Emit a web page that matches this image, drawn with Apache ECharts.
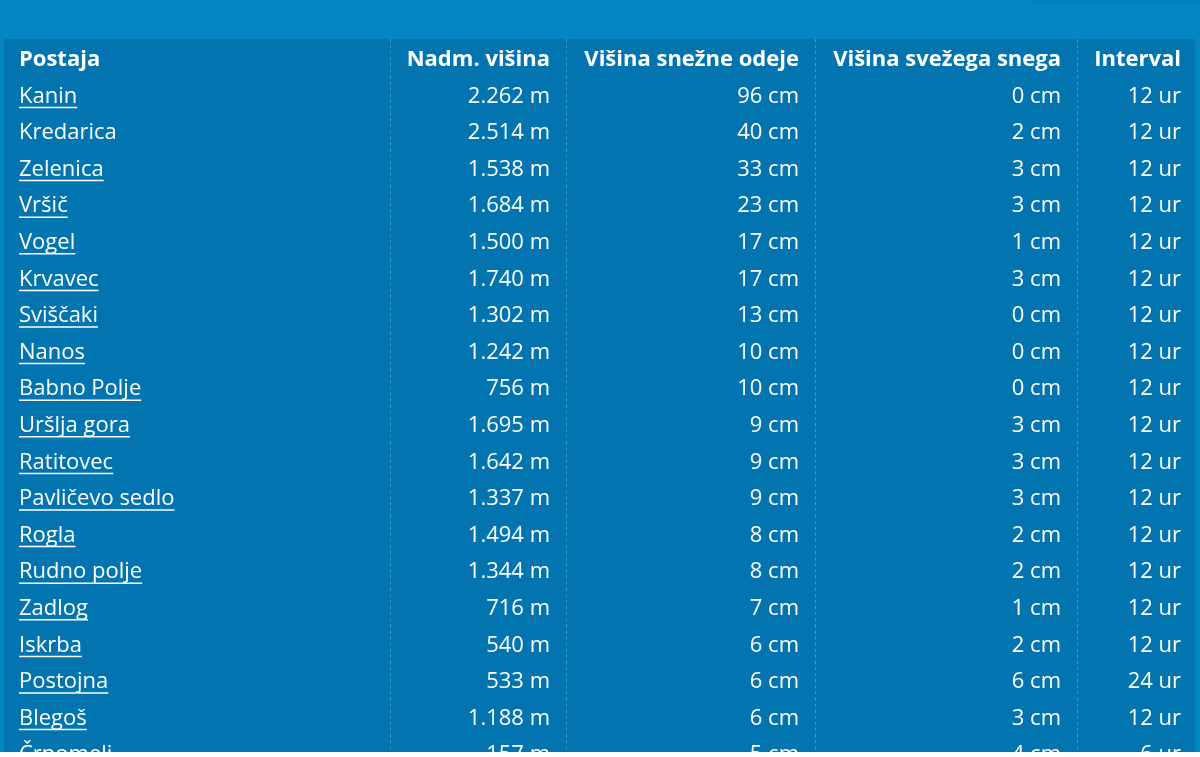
<!DOCTYPE html>
<html>
<head>
<meta charset="utf-8">
<script src="https://cdn.jsdelivr.net/npm/echarts@6/dist/echarts.min.js"></script>
<style>
html,body{margin:0;padding:0;background:#0386c1;}
#chart{width:1200px;height:757px;}
</style>
</head>
<body>
<div id="chart"></div>
<script>
// ---- data ----
var headers = ['Postaja', 'Nadm. višina', 'Višina snežne odeje', 'Višina svežega snega', 'Interval'];
var stations = ['Kanin','Kredarica','Zelenica','Vršič','Vogel','Krvavec','Sviščaki','Nanos','Babno Polje','Uršlja gora','Ratitovec','Pavličevo sedlo','Rogla','Rudno polje','Zadlog','Iskrba','Postojna','Blegoš','Črnomelj'];
var altitude = [2262, 2514, 1538, 1684, 1500, 1740, 1302, 1242, 756, 1695, 1642, 1337, 1494, 1344, 716, 540, 533, 1188, 157];
var snowDepth = [96, 40, 33, 23, 17, 17, 13, 10, 10, 9, 9, 9, 8, 8, 7, 6, 6, 6, 5];
var freshSnow = [0, 2, 3, 3, 1, 3, 0, 0, 0, 3, 3, 3, 2, 2, 1, 2, 6, 3, 4];
var intervalHours = [12, 12, 12, 12, 12, 12, 12, 12, 12, 12, 12, 12, 12, 12, 12, 12, 24, 12, 6];
var linked = [true, false, true, true, true, true, true, true, true, true, true, true, true, true, true, true, true, true, true];

// ---- layout ----
var FONT = '"Open Sans", "Noto Sans", sans-serif';
var FS = 22;
var ROW_H = 36.6;
var TEXT_DY = 2.5;
var GRID_TOP = 39, GRID_H = 713;
var separators = [390, 566, 815, 1077];
var colAnchor = [19, 550, 799, 1061, 1181];
var colAlign = ['left', 'right', 'right', 'right', 'right'];

function fmtThousands(v) {
  return String(v).replace(/\B(?=(\d{3})+(?!\d))/g, '.');
}
var nRows = stations.length + 1;

var mctx = document.createElement('canvas').getContext('2d');
function textWidth(t, weight) {
  mctx.font = (weight || 'normal') + ' ' + FS + 'px ' + FONT;
  return mctx.measureText(t).width;
}

function cellTexts(i) {
  if (i === 0) return headers;
  var k = i - 1;
  return [stations[k], fmtThousands(altitude[k]) + ' m', snowDepth[k] + ' cm', freshSnow[k] + ' cm', intervalHours[k] + ' ur'];
}

var rowData = [];
for (var r = 0; r < nRows; r++) rowData.push([4, r]);

var chart = echarts.init(document.getElementById('chart'), null, {renderer: 'canvas'});

var option = {
  backgroundColor: '#0386c1',
  animation: false,
  grid: {
    left: 4, top: GRID_TOP, width: 1191, height: GRID_H,
    show: true, backgroundColor: '#0275b0', borderWidth: 0
  },
  xAxis: { type: 'value', min: 4, max: 1195, show: false },
  yAxis: { type: 'value', inverse: true, min: -0.5, max: -0.5 + GRID_H / ROW_H, show: false },
  series: [{
    type: 'custom',
    coordinateSystem: 'cartesian2d',
    data: rowData,
    clip: false,
    renderItem: function (params, api) {
      var i = api.value(1);
      var cy = api.coord([4, i])[1] + TEXT_DY;
      var top = api.coord([4, i - 0.5])[1];
      var bottom = api.coord([4, i + 0.5])[1];
      var children = [];
      separators.forEach(function (sx) {
        var x = api.coord([sx, i])[0] + 0.5;
        children.push({
          type: 'line',
          shape: {x1: x, y1: top, x2: x, y2: bottom},
          style: {stroke: 'rgba(140,200,235,0.45)', lineWidth: 1, lineDash: [3, 3]},
          silent: true
        });
      });
      var texts = cellTexts(i);
      var weight = i === 0 ? 'bold' : 'normal';
      texts.forEach(function (t, c) {
        var x = api.coord([colAnchor[c], i])[0];
        children.push({
          type: 'text',
          style: {
            text: t, x: x, y: cy,
            fill: '#ffffff',
            font: weight + ' ' + FS + 'px ' + FONT,
            align: colAlign[c], verticalAlign: 'middle'
          }
        });
      });
      if (i > 0 && linked[i - 1]) {
        var x0 = api.coord([colAnchor[0], i])[0];
        var w = textWidth(texts[0], 'normal');
        children.push({
          type: 'line',
          shape: {x1: x0, y1: cy + 11, x2: x0 + w, y2: cy + 11},
          style: {stroke: '#ffffff', lineWidth: 1.5}
        });
      }
      return {type: 'group', children: children};
    }
  }],
  graphic: [
    {type: 'rect', left: 1033, top: 0, shape: {width: 167, height: 3}, style: {fill: '#037fb9'}, z: 100},
    {type: 'rect', left: 0, top: 752, shape: {width: 1200, height: 5}, style: {fill: '#ffffff'}, z: 100}
  ]
};
chart.setOption(option);
</script>
</body>
</html>
